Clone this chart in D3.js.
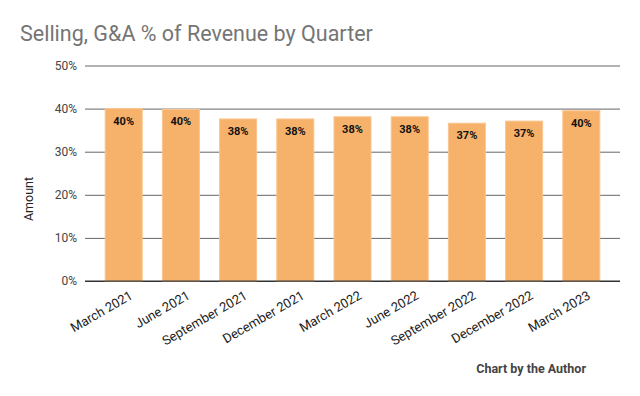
<!DOCTYPE html>
<html>
<head>
<meta charset="utf-8">
<script src="https://cdn.jsdelivr.net/npm/d3@7"></script>
<style>
  body { margin: 0; background: #fff; }
  svg { font-family: Roboto, sans-serif; display: block; }
</style>
</head>
<body>
<div id="view"></div>
<script>
const quarters = ['March 2021', 'June 2021', 'September 2021', 'December 2021', 'March 2022',
  'June 2022', 'September 2022', 'December 2022', 'March 2023'];
const sgaPct = [40.0, 39.8, 37.6, 37.6, 38.1, 38.1, 36.6, 37.1, 39.5];
const yTicks = [0, 10, 20, 30, 40, 50];

const w = 640;
const h = 396;
const margin = {top: 65.5, right: 20, bottom: 115, left: 85};
const width = w - margin.left - margin.right;
const height = h - margin.top - margin.bottom;

const svg = d3.select('#view').append('svg')
  .attr('width', w)
  .attr('height', h);

svg.append('text')
  .attr('x', 20)
  .attr('y', 41)
  .attr('fill', '#757575')
  .attr('font-size', 21.5)
  .text('Selling, G&A % of Revenue by Quarter');

const g = svg.append('g').attr('transform', `translate(${margin.left}, ${margin.top})`);

const x = d3.scaleBand()
  .domain(quarters)
  .range([0, width])
  .paddingInner(0.353)
  .paddingOuter(0.353);

const y = d3.scaleLinear()
  .domain([0, 50])
  .range([height, 0]);

// gridlines + tick labels
const yAxis = g.append('g')
  .call(d3.axisLeft(y).tickValues(yTicks).tickSize(-width).tickFormat(d => d + '%'));
yAxis.select('.domain').remove();
yAxis.selectAll('.tick line')
  .attr('stroke', d => d === 0 ? '#333' : '#666')
  .attr('stroke-width', 1);
yAxis.selectAll('.tick text')
  .attr('x', -8)
  .attr('fill', '#444')
  .attr('font-size', 12)
  .attr('font-family', 'Roboto, sans-serif');

const bar = g.selectAll('.bar')
  .data(quarters)
  .enter().append('g')
    .attr('class', 'bar');

bar.append('rect')
  .attr('x', d => x(d))
  .attr('y', (d, i) => y(sgaPct[i]))
  .attr('width', x.bandwidth())
  .attr('height', (d, i) => height - y(sgaPct[i]))
  .attr('fill', '#F6B26B')
  .attr('stroke', '#F9C58F')
  .attr('stroke-width', 1);

bar.append('text')
  .attr('x', d => x(d) + x.bandwidth() / 2)
  .attr('y', (d, i) => y(sgaPct[i]) + 16)
  .attr('text-anchor', 'middle')
  .attr('font-size', 11)
  .attr('font-weight', 'bold')
  .attr('fill', '#111')
  .text((d, i) => Math.round(sgaPct[i]) + '%');

// baseline on top of bars
g.append('line')
  .attr('x1', 0)
  .attr('x2', width)
  .attr('y1', y(0))
  .attr('y2', y(0))
  .attr('stroke', '#333');

// rotated category labels
g.append('g')
  .selectAll('text')
  .data(quarters)
  .enter().append('text')
    .attr('transform', d => `translate(${x(d) + x.bandwidth() / 2 + 10}, ${height + 17}) rotate(-30)`)
    .attr('text-anchor', 'end')
    .attr('font-size', 13)
    .attr('fill', '#222')
    .text(d => d);

svg.append('text')
  .attr('transform', 'translate(33, 199) rotate(-90)')
  .attr('text-anchor', 'middle')
  .attr('font-size', 12.5)
  .attr('fill', '#222')
  .text('Amount');

svg.append('text')
  .attr('x', 586)
  .attr('y', 373)
  .attr('text-anchor', 'end')
  .attr('font-size', 12.5)
  .attr('font-weight', 'bold')
  .attr('fill', '#444')
  .text('Chart by the Author');
</script>
</body>
</html>
